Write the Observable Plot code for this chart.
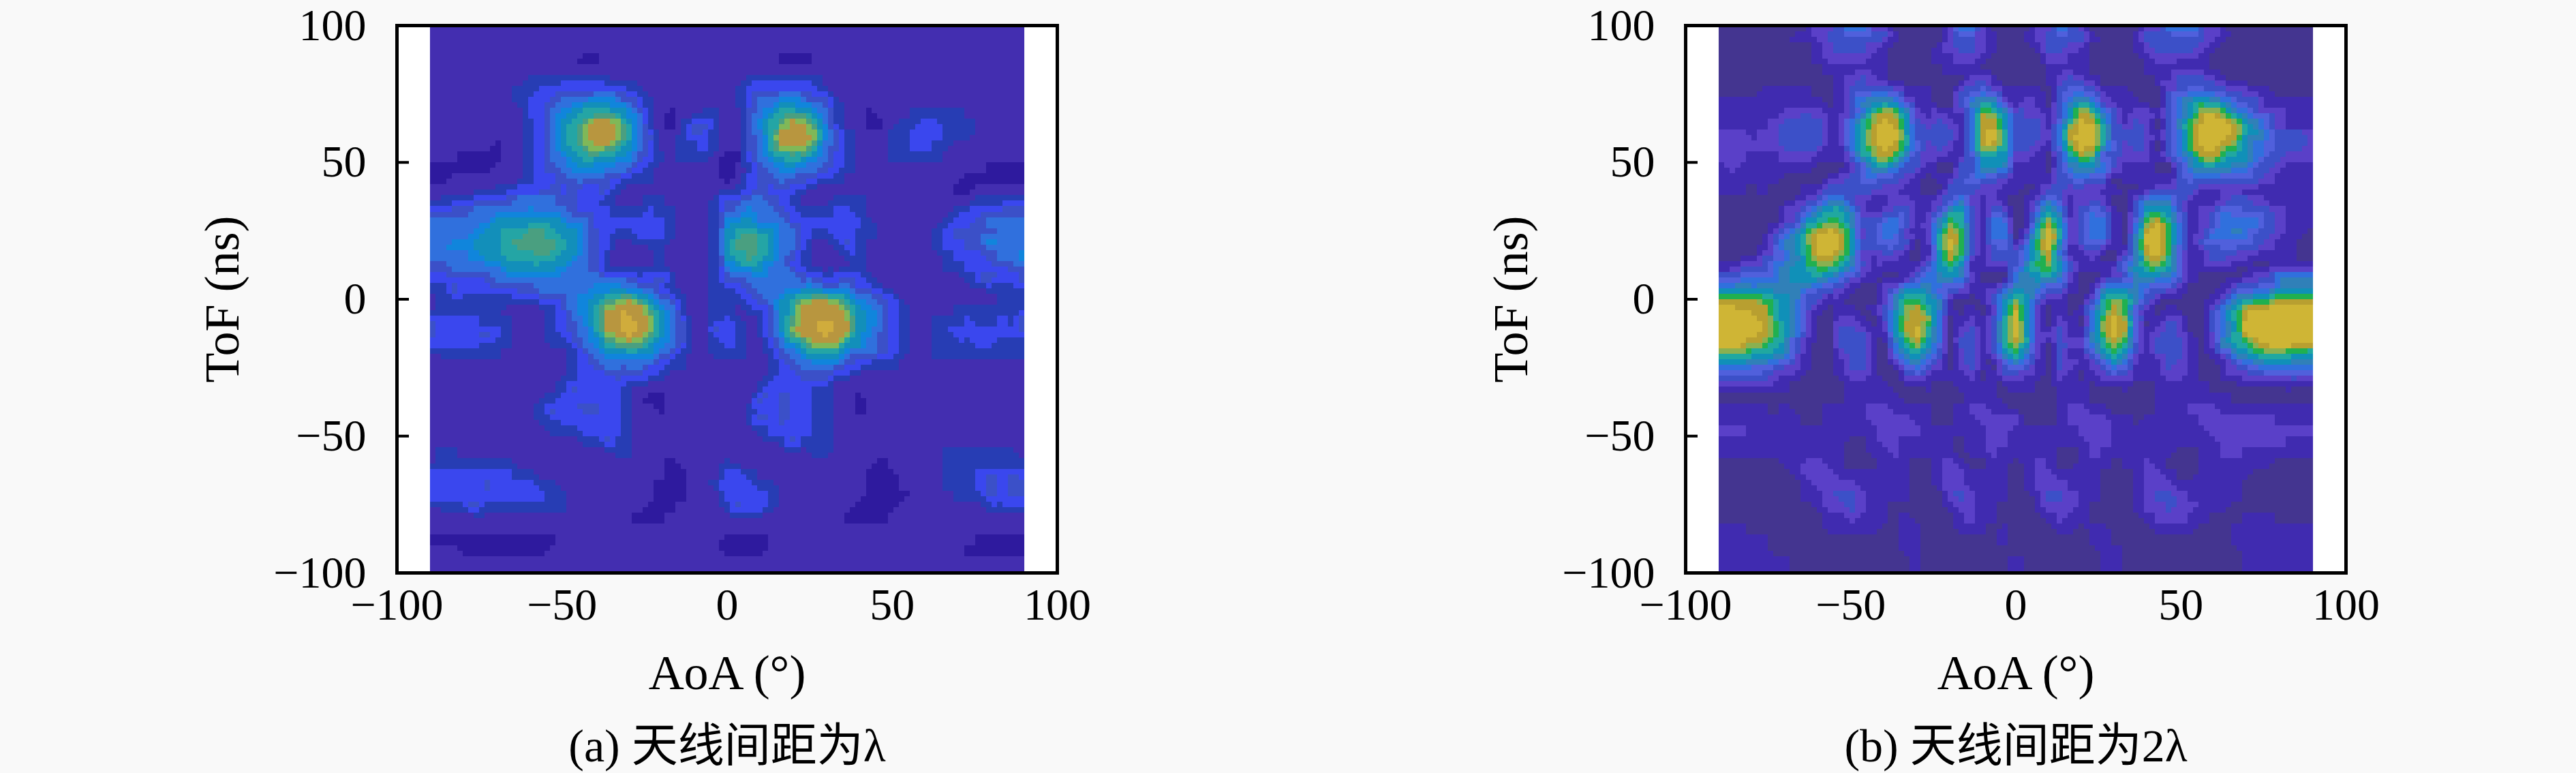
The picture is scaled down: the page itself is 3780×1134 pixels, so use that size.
<!DOCTYPE html>
<html lang="zh">
<head>
<meta charset="utf-8">
<script src="https://cdn.jsdelivr.net/npm/d3@7"></script>
<script src="https://cdn.jsdelivr.net/npm/@observablehq/plot@0.6"></script>
<style>
html,body{margin:0;padding:0;background:#f9f9f9;overflow:hidden}
#wrap{display:flex;width:3780px;height:1134px}
#wrap svg{display:block;flex:none}
</style>
</head>
<body>
<div id="wrap"></div>
<script>
const xTicks = [-100,-50,0,50,100];
const yTicks = [-100,-50,0,50,100];
const xLabel = "AoA (°)";
const yLabel = "ToF (ns)";
const captionA = "(a) 天线间距为λ";
const captionB = "(b) 天线间距为2λ";
const aoaCount = 55, tofCount = 51;

// power level per cell, one base-36 digit each; top row is ToF = 100, left column is AoA = -90
const powerA = [
"1111111111 1111111111 1111111111 1111111111 1111111111 11111",
"1111111111 1111111111 1111111111 1111111111 1111111111 11111",
"1111111111 1111111111 1111111111 1111111111 1111111111 11111",
"11111111111111 00 11111111111 11111 000 11111111111111111111",
"1111111111 1111111111 1111111111 1111111111 1111111111 11111",
"111111111 22222222 1111111111 11 2222222 1111111111111111111",
"11111111 22 33 444444 3 2 1111111 1 2 3 44444 3 2 111111111111111111",
"11111111 2 33 4 55 6 77 55 3 2 111111 1 2 3 55 77 55 4 2 11111111111111111",
"111111111 33 5 6 7 8888 6 5 2 1 0 11 22 11 4 5 7 888 6 5 2 11 0 111 22222 111111",
"111111111 2 3 5 7 8 9 bb a 8 5 2 1 0 2 44 2 11 4 6 8 9 b a 8 5 2 11 00 1 22 33 222 11111",
"111111111 2 3 5 7 8 a bb a 8 5 4 11 2 4 3 2 11 4 5 8 bbb a 6 4 2 111 22 333 222 11111",
"111111 0 11 2 3 5 7 8 9 aa 9 7 5 3 11 22 3 2 11 4 5 8 aaa 8 5 4 2 111 22 33 22 1111111",
"111 0000 11 2 3 55 7 88 77 6 4 3 2 1 222 1 00 3 5 7 888 6 5 3 2 111 22222 11111111",
"000000 111 2 3 4 5 6666 55 3 2 111111 0 1 2 4 5 66 55 4 3 2 111111111111 0000",
"00 1111111 2 33 44 5 44 3 222 111111 0 1 3 44 5 44 3 22 11111111111 000000",
"111111 22 333 4 3 4 33 4 2 111111111 1 2 3 4 333 2 1111111111111 00 11111",
"1 222 3 4 3 4 5555 44 33 2 111 22 1111 2 44 55 4 3 2 111 222 1111111111 22222",
"33 44 55555 6 555 4 333 222 3 22 111 2 4 5 6 55 4 3 222 33 2 11111111 2 333 444",
"555555 7777777 55 3333333 2 111 2 6 77 555 3333333 2 111111 2 33 4 5555",
"5555 6 77 88 99 8 77 5 4 3 22 333 2 111 2 7 8 9 8 7 55 3 22 33 22 11111 2 3 4444 555",
"55 66 777 8 9999 8 7 5 4 3 111 22 1111 2 7 99 8 7 55 3 11 2 4 2 111111 2 33 44 6 555",
"5555 6 77 888 9 8 77 5 4 2 1111 2 1111 2 7 8 9 8 7 5 4 2 111 22 1111111 2 333 4 55 6",
"44 55555 777777 55 4 2 1111 2 1111 2 5 777 55 3 2 1111 2 1111111 22 3333 44",
"33333 4 5555555555 444 33 4 2 111 2 44 55555 44 2 3 4 3 2 11111111 2 44 33 4",
"22 4 33333 44 55555 666 55 4 3 2 111 2 2 3 4 5555 66 555 33 2 111111111 2222",
"1 222222222 33 4 5 6 7 8 9 a 8 7 5 4 2 11 2 2234578 9aa98 6543 111111111 222",
"1 222222 1111 2 3 5 6 8 a bbb 9 7 5 2 11 2 2 1 22 4 7 8 bbbb 9 7 6 5 3 2 1111 2222222",
"4 3333 222 111 2 3 4 6 8 a b c b a 7 5 4 11 2 3 2 1 2 4 7 9 bbbb a 7 6 5 3 2 11 222 3 22 3 2 4",
"4 3333 4 3 2 111 2 3 4 5 7 a b c b a 7 5 4 11 4 3 2 1 2 4 7 a bb c b a 7 6 4 3 2 11 22 4 33333 4",
"33333 222 111 22 3 5 6 8 9 a 9 7 6 5 4 11 2 3 2 11 3 5 7 8 aaa 77 5 4 3 2 11 2222 33 222",
"1 222222 111111 2 3 5 6 7777 5 4 2 11 2 22 11 2 4 5 7 88 7 555 4 3 2 11 222222222",
"1111111111111 2 3 4 5555 4 3 22 111 1111 2 3 4 5555 4 3 222 111111111111",
"1111111111111 2 333 4 3 4 22 11111 1111 2 33 444 22 1111111111111111",
"111111111111 2 4 3333 2 11111111 111 2 3333 22 111111111111111111",
"11111111111 2 333333 2 1 00 11111 111 4 3 4 33 22 11 0 111111111111111",
"1111111111 2 4 33 44 33 2 11 0 11111 11 2 33 4 33 22 11 0 111111111111111",
"1111111111 22 333333 2 11111111 11 2 4 3 4 33 22 111111111111111111",
"11111111111 222 3333 2 11111111 111 2 3333 22 111111111111111111",
"11111111111111 22 4 22 11111111 11111 2 4 222 111111111111111111",
"1 22 11111111111111 22 11111111 11111111 22 1111111111 2222222 1",
"1 2222222 11111111111111 0 1111 2 1111111111111 0 11111 22222222",
"33333333 22 111111111111 00 111 33 2 1111111111 000 1111 222 3 4 3 4 3",
"33333 4 3333 22 111111111 000 11 2 333 22 11111111 000 1111 222 3 4 3 4 4",
"33333333333 22 11111111 000 111 3333 2 11111111 0000 1111 222 4 3 4 4",
"1 222 4 22222222 1111111 000 1111 2 4 33 2 1111111 0000 1111111 1 2222",
"1111111111111111111 000 11111 11111111111 0000 1111111111111",
"1111111111 1111111111 1111111111 1111111111 1111111111 11111",
"000000000000 111111111111111 0000 1111111111111111111 00000",
"111 00000000 1111111111111111 0000 111111111111111111 000000",
"1111111111 1111111111 1111111111 1111111111 1111111111 11111",
"1111111111 1111111111 1111111111 1111111111 1111111111 11111"
];

const powerB = [
"000000000223662200000266200 0022632000002266622000000000",
"000000011233333310000233210 0123333100013333332100000000",
"000000000123332100001233210 0013321000012333321000000000",
"000000000122221100001122100 0002211000001221110000000000",
"000000000011111100000111000 0001111000001111110000000000",
"000000000001232100000002310 0001232100000113332100000000",
"000011111001334431110033431 1110344311100033444332110000",
"111111111101367763110036773 1210367621110036787643311111",
"111111223211259ba7212115a97 3221 37b9 5312 2135 7bb9 6533 2111",
"111112333311 58acb7323215 bb7 3331 59cb 7313 2037 accc a763 2111",
"222122 3333 11 58bcc8 3333 1 5bc8 3332 5bcc 8333 2135 accc b775 3332",
"222222 3333 11 58acb8 4232 1 5bb8 3321 5acb 7423 2035 acca 9754 3332",
"222 111 222 111 379b96 322 11 3777 2210 37a9 3322 2135 7ab8 7753 3222",
"1 2 1111111 000 1 36763 3 1 00 33 776 1110 3667 53 111 00 36777 65 33 2 111",
"111111 0000 12 3 44 33 2 1 0 11 3 44 3 2 1111 3 44 33 0 1 1111 3 444 3333 2 1111",
"111 0 1 000 11 33333 22 11 00 333 22 1 1 0 1 33 222 11 00 1 3333 11 22 1111111",
"0000000 1 2 3 5 6 3 2 11 22 11 2 3 5 2 1 2 1 0 1 3 5 3 1 222 00 3 555 3 111 2 33 2 11111",
"000000 22 4 6 88 6 2 1 2 33 11 3 7 8 3 1 33 0 1 5 8 5 1 3 5 3 1 0 3 88 7 3 1 2 3 5 4 333 2 111",
"000000 23 78 99 7 33 55 3 1 2 6 9 8 3 1 55 0 1 7 a 7 2 3 55 1 0 5 a b 8 4 1 2 3 5555 3 2 111",
"00000 2 5 6 9 b c b 8 2 3 55 2 11 7 b 9 3 1 55 028c 8235 5106 cc94 1255 6533 2110",
"0000 1367 9ccc 8333 4301 8c93 134 159c 6134 3107 cc84 1334 4332 1100",
"0000 2346 8bba 7213 2101 6b93 133 358b 5112 0026 bb83 1133 2211 1100",
"1122 3567 8998 63 11111 3787 1111 3799 73 111 2 57998 3 11111 000 1111",
"33 444 56 777 65 32 1 00 1 3 5 6 7 6 2 000 5677 6200 1236 7653 1 0000 1 22 6666",
"66666666 54321 00 23 666 433 111 4 666 33 1 0 1 6666 4 33 1 000 1 33 44 6666",
"aaaa 9876 3311 000 1 68976 1001 37 9731 1002 8996 31 0000 1367 88 aaaa",
"cc bbb 876 3 1 0 11 0 1 3 6 a b 8 6 1 0 1 0 2 7 b720 1015 8b83 1010 0036 8bb ccccc",
"cccc b976 3002 2102 7aba 5012 138 c720 2105 aca4 0132 0036 8 ccccccc",
"cccc b986 3003 3311 7ac8 5023 138 c722 3116 aca3 1232 0035 8 ccccccc",
"ccc aa 873 1 00 333 1 0 5 8 a 7 5 0 33 1 3 8 a820 3226 8a83 1333 1027 89b ccccc",
"999 88 763 1 00 2 33 1 0 4 7 8 6 3 0 2 3 1 3 7 9520 3114 7972 1333 1013 6789 9887",
"666 55 4321 00 1 33 1 0 1 4 6 4 2 0 2 3 1 0 3 5310 3212 3641 1132 1001 345 66666",
"33333 2 11 000 1 22 1 00 2 3 1111 2 0 1 3 2110 2101 2331 1122 1001 122 33333",
"1111111 00000 1111 000 1 00 1111 0 11 00 111 000 1 00 11111 0000000 1 00",
"000000000000 11111 000000 111 0 0000 111 000000 1111111 00000000",
"11111 0 1 000 1111 22 1111 00 1 22 11 0000 1 22 11 0000 111 222 111111111",
"11111111 00 1111 2222 11 00 11 222 2 000 1 2222 11 0 11111 2222222 1111",
"222 111111111111 2222 111111 22 111111 222 111111111 2222222222",
"111111111111 00 1 22 11111 0 11 22 1111111 22 1111111111 222222 111",
"111111111111 00 11 2 11111 0 11 2 1 1111 00 1 2 1111111 00 11 22 1111111",
"000000 11 22 11 000 111 00 1 2 1 00 11 0 1 2 1 00 111 0 11 2 1 000 1111111 0000",
"0000000 1 222 1111111 00 1 22 1111 0 1 22 1111 000 1 22 1 00 11111 000000",
"00000000 1 2222 11111 00 1 22 1111 0 1 222 111 000 1 222 111111 0000000",
"00000000 11 2 33 2 1111 000 2 3 2 111 00 1 33 2 11 000 1 2 33 2 11111 0000000",
"000000000 1 22 3 2 11 00000 1 22 11 0 00 1 222 1 0000 1 22 3 22 111 00000000",
"0000000000 11 2 111 0 1 0000 1 2 11 0 000 1 2 11 00000 1 222 11 000 111 0000",
"111 0000000 11111 00 11 000 111 0 1 0000 11 0 11 0000 1111 000 11111111",
"11111 000000000000 11 0000000 1 0000000 11 00000000000 11111111",
"11111 000000000000 11 00000000 00000000 11 00000000000 1111111",
"1111111 00000000000 1 00000000 1 0000000 11 00000000000 1111111",
"1111111 00000000000 1 00000000 1 0000000 11 00000000000 1111111"
];

const levelThresholds = [0.5,1.5,2.5,3.5,4.5,5.5,6.5,7.5,8.5,9.3,10.1,11.2];
const coloursA = ["#2e1a9e","#432eb0","#273db4","#3a47ee","#3b50c8","#3070dd","#1085dc","#128fba","#24a5a5","#4a9f80","#80b858","#b8963f","#d0ac3c"];
const coloursB = ["#443590","#402bb0","#5a40c8","#3c50c8","#5060dc","#3070dd","#3080b8","#1090b8","#20a8a0","#20b050","#8ab050","#b89f30","#cfb535"];

function cells(rows) {
  return rows.flatMap((row, r) => {
    const digits = row.replace(/ /g, "");
    if (digits.length !== aoaCount) throw new Error("row " + r + " has " + digits.length);
    return Array.from(digits, (d, c) => ({
      aoa: -90 + c * 180 / (aoaCount - 1),
      tof: 100 - r * 200 / (tofCount - 1),
      level: parseInt(d, 36)
    }));
  });
}

function panel(rows, colours, caption, marginLeft, marginRight) {
  return Plot.plot({
    width: 1890, height: 1134,
    marginTop: 37, marginBottom: 294, marginLeft, marginRight,
    style: {background: "transparent", fontFamily: '"Liberation Serif","Noto Sans CJK SC",serif', fontSize: "62px", color: "#000"},
    x: {domain: [-100, 100], axis: null},
    y: {domain: [-100, 100], axis: null},
    color: {type: "threshold", domain: levelThresholds, range: colours},
    marks: [
      Plot.frame({fill: "#fff", stroke: "none"}),
      Plot.raster(cells(rows), {
        x: "aoa", y: "tof", fill: "level",
        x1: -90, x2: 90, y1: 100, y2: -100,
        interpolate: "barycentric", pixelSize: 8, imageRendering: "pixelated"
      }),
      Plot.frame({stroke: "#000", strokeWidth: 5}),
      Plot.axisX({ticks: xTicks, anchor: "bottom", tickSize: 0, tickPadding: 22, fontSize: 66, label: null}),
      Plot.axisY({ticks: yTicks, anchor: "left", tickSize: -18, tickPadding: 63, strokeWidth: 4, fontSize: 66, label: null}),
      Plot.text([xLabel], {frameAnchor: "bottom", dy: 147, lineAnchor: "middle", fontSize: 72, text: d => d}),
      Plot.text([yLabel], {frameAnchor: "left", dx: -256, rotate: -90, textAnchor: "middle", lineAnchor: "middle", fontSize: 72, text: d => d}),
      Plot.text([caption], {frameAnchor: "bottom", dy: 255, lineAnchor: "middle", fontSize: 68, text: d => d})
    ]
  });
}

const wrap = document.getElementById("wrap");
wrap.append(panel(powerA, coloursA, captionA, 582, 339));
wrap.append(panel(powerB, coloursB, captionB, 583, 338));
</script>
</body>
</html>
